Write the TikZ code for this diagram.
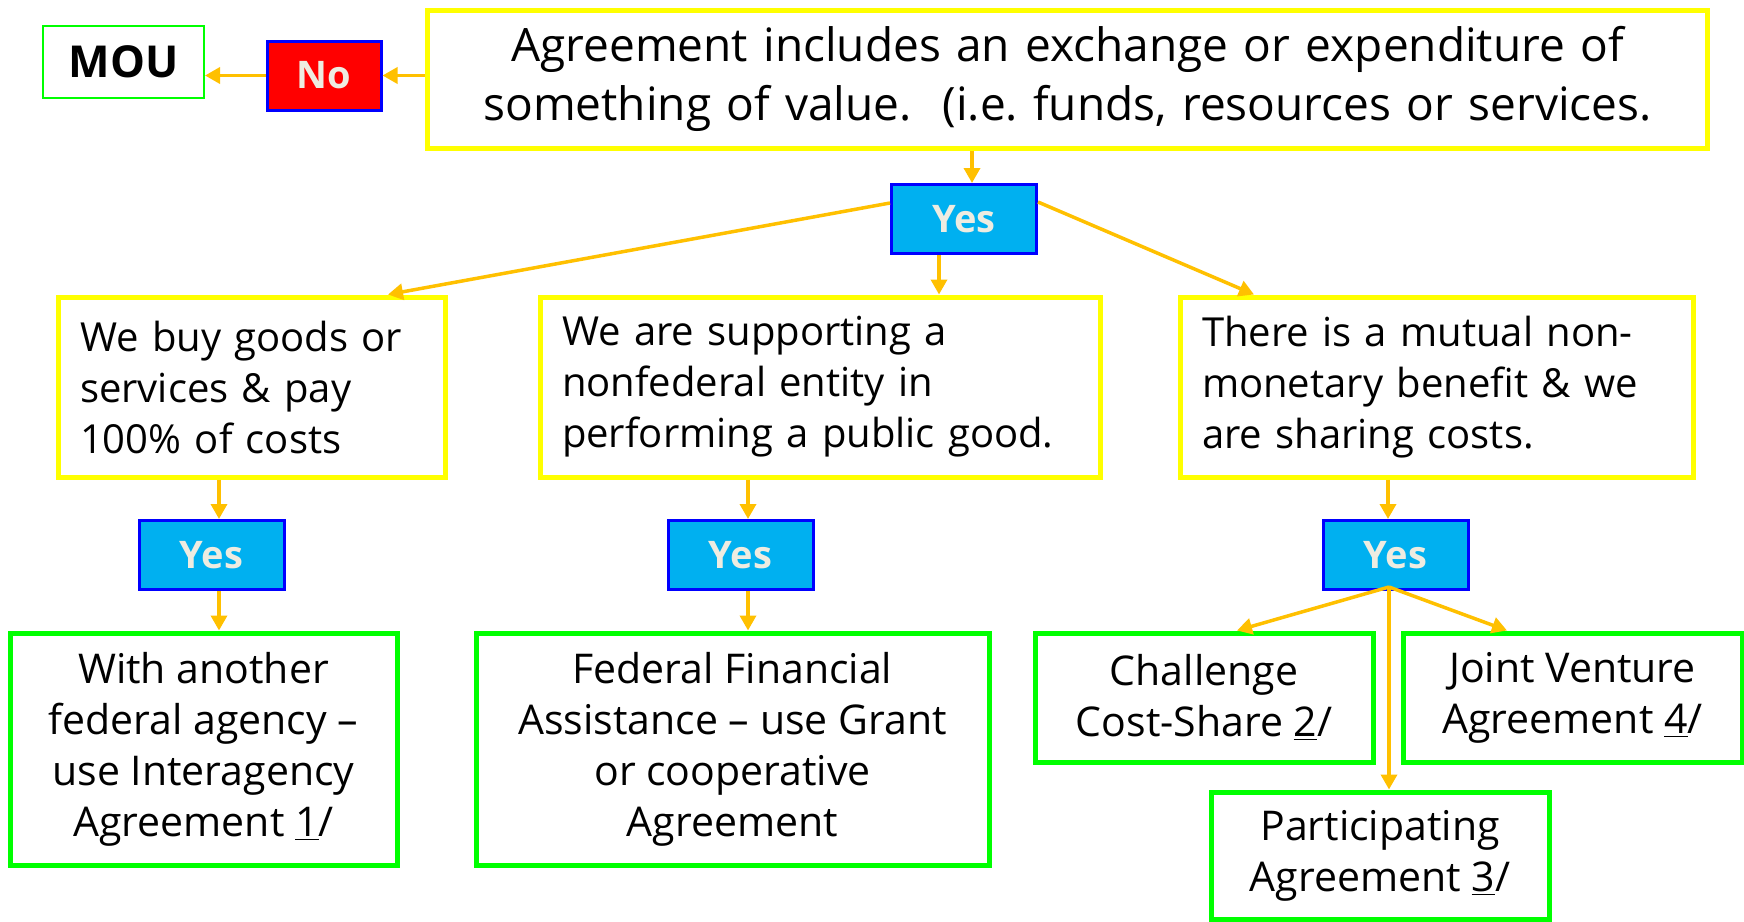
\documentclass[tikz,border=0pt]{standalone}
\usepackage{fontspec}
\setmainfont{Open Sans}
\usetikzlibrary{arrows.meta}
\frenchspacing

\definecolor{qyellow}{RGB}{255,255,0}
\definecolor{agreen}{RGB}{0,255,0}
\definecolor{yesfill}{RGB}{0,176,240}
\definecolor{yesline}{RGB}{0,0,255}
\definecolor{nofill}{RGB}{255,0,0}
\definecolor{flowgold}{RGB}{255,192,0}
\definecolor{labelwhite}{RGB}{238,236,225}

\tikzset{
  qbox/.style={draw=qyellow, line width=2.5pt, fill=white, align=left, inner xsep=11pt,
    minimum height=90pt, font=\fontsize{20}{25.5}\selectfont},
  abox/.style={draw=agreen, line width=2.5pt, fill=white, align=center,
    font=\fontsize{20.5}{25.5}\selectfont},
  yesbox/.style={draw=yesline, line width=1.5pt, fill=yesfill, text=labelwhite,
    minimum width=72.5pt, minimum height=34.5pt, font=\fontsize{19}{22}\selectfont\bfseries},
  nobox/.style={yesbox, fill=nofill, minimum width=57pt},
  flow/.style={draw=flowgold, line width=1.75pt, -{Triangle[length=7.5pt,width=8pt]}}
}

\begin{document}
\begin{tikzpicture}[x=0.5pt,y=0.5pt,yscale=-1]
\useasboundingbox (0,0) rectangle (1744,921);

%Shape: Rectangle [question]
\node[qbox, align=center, text width=618pt, minimum height=69pt,
  font=\fontsize{23}{29.5}\selectfont] (value) at (1067.5,79)
  {Agreement includes an exchange or expenditure of\\something of value.\ \ (i.e. funds, resources or services.};
%Shape: Rectangle [no]
\node[nobox] (no) at (324,75.5) {No};
%Shape: Rectangle [mou]
\node[draw=agreen, line width=1pt, minimum width=80.5pt, minimum height=36pt,
  font=\fontsize{22}{24}\selectfont\bfseries] (mou) at (123.5,62) {MOU};
%Shape: Rectangle [yes]
\node[yesbox] (yes0) at (964,219) {Yes};

%Shape: Rectangle [three cases]
\node[qbox, text width=171.5pt] (buy) at (251.5,387) {We buy goods or\\services \& pay\\100\% of costs};
\node[qbox, text width=258pt] (pubgood) at (820,387) {We are supporting a\\nonfederal entity in\\performing a public good.};
\node[qbox, text width=234.5pt] (mutual) at (1436.5,387) {There is a mutual non-\\monetary benefit \& we\\are sharing costs.};

%Shape: Rectangle [yes under each case]
\node[yesbox] (yes1) at (211.5,555) {Yes};
\node[yesbox] (yes2) at (740.5,555) {Yes};
\node[yesbox] (yes3) at (1395.5,555) {Yes};

%Shape: Rectangle [agreements]
\node[abox, minimum width=193.5pt, minimum height=116pt] (iaa) at (203.5,749)
  {With another\\federal agency --\\use Interagency\\Agreement \underline{1}/};
\node[abox, minimum width=256.5pt, minimum height=116pt] (ffa) at (732.5,749)
  {Federal Financial\\Assistance -- use Grant\\or cooperative\\Agreement};
\node[abox, minimum width=169pt, minimum height=64.5pt] (challenge) at (1204,697.5)
  {Challenge\\Cost-Share \underline{2}/};
\node[abox, minimum width=169.5pt, minimum height=64.5pt] (jointv) at (1572.5,697.5)
  {Joint Venture\\Agreement \underline{4}/};
\node[abox, minimum width=169pt, minimum height=63.5pt] (partic) at (1380,855.5)
  {Participating\\Agreement \underline{3}/};

%Coordinates [arrow ports]
\coordinate (vport) at ([xshift=4pt]yes0.north);
\coordinate (sport) at ([xshift=-12.5pt]yes0.south);
\coordinate (b1) at ([xshift=3.75pt]yes1.north);
\coordinate (c1) at ([xshift=3.75pt]yes1.south);
\coordinate (b2) at ([xshift=3.75pt]yes2.north);
\coordinate (c2) at ([xshift=3.75pt]yes2.south);
\coordinate (b3) at ([xshift=-3.75pt]yes3.north);
\coordinate (fork) at ([xshift=-3.25pt,yshift=-2pt]yes3.south);

%Straight Lines
\draw[flow] (value.west |- no.east) -- (no.east);
\draw[flow] (no.west) -- (no.west -| mou.east);
\draw[flow] (vport |- value.south) -- (vport);
\draw[flow] ([yshift=-8pt]yes0.west) -- ([xshift=68.25pt]buy.north);
\draw[flow] (sport) -- (sport |- pubgood.north);
\draw[flow] ([yshift=-8.5pt]yes0.east) -- ([xshift=-91.25pt]mutual.north);
\draw[flow] (b1 |- buy.south) -- (b1);
\draw[flow] (c1) -- (c1 |- iaa.north);
\draw[flow] (b2 |- pubgood.south) -- (b2);
\draw[flow] (c2) -- (c2 |- ffa.north);
\draw[flow] (b3 |- mutual.south) -- (b3);
\draw[flow] (fork) -- ([xshift=16.5pt]challenge.north);
\draw[flow] (fork) -- (fork |- partic.north);
\draw[flow] (fork) -- ([xshift=-32.75pt]jointv.north);
\end{tikzpicture}
\end{document}
